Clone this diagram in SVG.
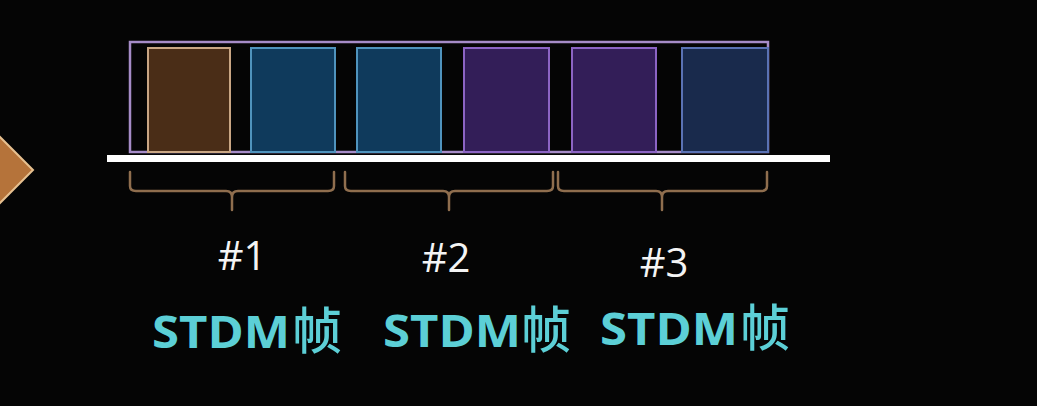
<svg xmlns="http://www.w3.org/2000/svg" width="1037" height="406" viewBox="0 0 1037 406">
<style>
.slot{stroke-width:2}
.brace{fill:none;stroke:#8f6e4e;stroke-width:2.5;stroke-linecap:round}
.num{font-family:"Open Sans","Noto Sans",sans-serif;font-size:40px;fill:#f4f4f4;text-anchor:middle}
.lbl{font-family:"Open Sans","Noto Sans","Noto Sans CJK SC",sans-serif;font-weight:bold;font-size:44px;fill:#5ccfd6}
.cjk{font-family:"Noto Sans CJK SC",sans-serif;font-weight:500;font-size:50px;fill:#5ccfd6}
</style>
<rect width="1037" height="406" fill="#050505"/>
<g id="arrow">
<polygon points="33,170 -40,97 -113,170 -40,243" fill="#b5733a" stroke="#e6c090" stroke-width="2"/>
</g>
<g id="frame">
<rect x="130" y="42" width="638" height="110" fill="#050505" stroke="#a68cc8" stroke-width="2.5"/>
</g>
<g id="slot1"><rect class="slot" x="148" y="48" width="82" height="104" fill="#4a2d17" stroke="#c9a684"/></g>
<g id="slot2"><rect class="slot" x="251" y="48" width="84" height="104" fill="#0f3a5c" stroke="#4f93bd"/></g>
<g id="slot3"><rect class="slot" x="357" y="48" width="84" height="104" fill="#0f3a5c" stroke="#4f93bd"/></g>
<g id="slot4"><rect class="slot" x="464" y="48" width="85" height="104" fill="#331e58" stroke="#8c64c4"/></g>
<g id="slot5"><rect class="slot" x="572" y="48" width="84" height="104" fill="#331e58" stroke="#8c64c4"/></g>
<g id="slot6"><rect class="slot" x="682" y="48" width="86" height="104" fill="#192a4c" stroke="#5a72b4"/></g>
<g id="line"><rect x="107" y="155" width="723" height="7" fill="#ffffff"/></g>
<g id="connectors">
<path class="brace" d="M130,172 L130,186 Q130,191 136,191 L226,191 Q232,191 232,197 L232,210 M232,197 Q232,191 238,191 L328,191 Q334,191 334,186 L334,172"/>
<path class="brace" d="M345,172 L345,186 Q345,191 351,191 L443,191 Q449,191 449,197 L449,210 M449,197 Q449,191 455,191 L547,191 Q553,191 553,186 L553,172"/>
<path class="brace" d="M558,172 L558,186 Q558,191 564,191 L656,191 Q662,191 662,197 L662,210 M662,197 Q662,191 668,191 L761,191 Q767,191 767,186 L767,172"/>
</g>
<g id="label1">
<text class="num" x="242" y="270">#1</text>
<text class="lbl" x="152" y="348" textLength="138" lengthAdjust="spacingAndGlyphs">STDM</text>
<text class="cjk" x="292" y="349">帧</text>
</g>
<g id="label2">
<text class="num" x="446" y="272">#2</text>
<text class="lbl" x="383" y="347" textLength="138" lengthAdjust="spacingAndGlyphs">STDM</text>
<text class="cjk" x="521" y="348">帧</text>
</g>
<g id="label3">
<text class="num" x="664" y="277">#3</text>
<text class="lbl" x="600" y="345" textLength="138" lengthAdjust="spacingAndGlyphs">STDM</text>
<text class="cjk" x="740" y="346">帧</text>
</g>
</svg>
